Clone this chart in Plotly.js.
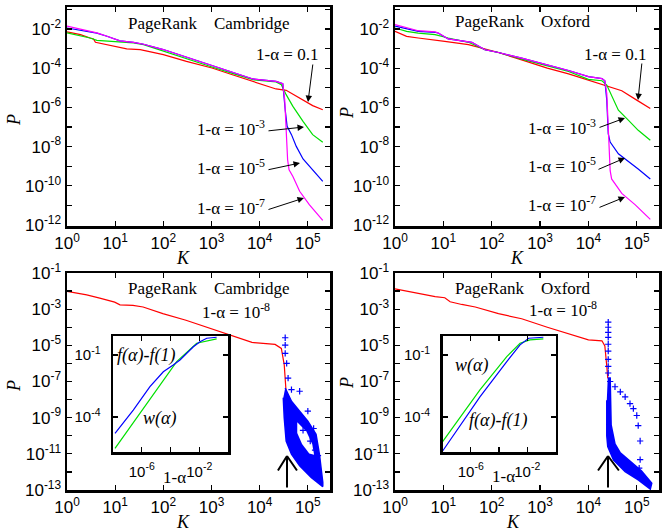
<!DOCTYPE html>
<html><head><meta charset="utf-8">
<script src="https://cdn.plot.ly/plotly-3.0.1.min.js"></script>
<style>html,body{margin:0;padding:0;background:#fff}#c{width:670px;height:531px}</style>
</head><body><div id="c"></div>
<script>
// ---------- data (log10 values) ----------
// Top-left: Cambridge
const camRedLK = [0,0.28,0.48,0.55,0.59,0.83,1.0,1.24,1.52,2.0,2.48,3.01,3.45,4.0,4.34,4.55,4.83,5.1,5.31];
const camRedLP = [-2.15,-2.29,-2.46,-2.51,-2.68,-2.80,-2.92,-3.02,-3.05,-3.31,-3.65,-3.99,-4.35,-4.79,-5.06,-5.13,-5.52,-5.91,-6.12];
const camMagLK = [0,0.28,0.48,0.62,0.83,1.0,1.10,1.38,1.59,2.0,2.48,3.01,3.45,3.86,4.34,4.48,4.52,4.55,4.58,4.61,4.69,4.83,5.03,5.31];
const camMagLP = [-1.86,-2.03,-2.12,-2.20,-2.37,-2.54,-2.61,-2.68,-2.78,-3.05,-3.43,-3.85,-4.21,-4.55,-4.67,-4.79,-5.61,-7.31,-8.67,-9.18,-9.52,-10.28,-10.96,-11.76];
const camBluLK = [0,0.28,0.48,0.62,0.83,1.0,1.10,1.38,1.59,2.0,2.48,3.01,3.45,3.86,4.34,4.48,4.53,4.57,4.66,4.76,4.9,5.1,5.31];
const camBluLP = [-1.95,-2.07,-2.14,-2.21,-2.37,-2.54,-2.61,-2.68,-2.78,-3.05,-3.43,-3.85,-4.21,-4.55,-4.67,-4.79,-6.12,-6.97,-7.39,-7.99,-8.63,-9.18,-9.77];
const camGrnLK = [0,0.28,0.48,0.62,0.83,1.0,1.38,1.59,2.0,2.48,3.01,3.45,3.86,4.34,4.45,4.55,4.69,4.9,5.1,5.31];
const camGrnLP = [-2.20,-2.34,-2.46,-2.58,-2.61,-2.63,-2.71,-2.80,-3.14,-3.53,-3.94,-4.28,-4.59,-4.70,-4.84,-5.35,-5.95,-6.71,-7.39,-7.78];
// Top-right: Oxford
const oxRedLK = [0,0.24,0.48,0.83,1.03,1.52,1.66,2.14,2.62,3.15,3.59,4.0,4.48,4.69,5.0,5.28];
const oxRedLP = [-2.12,-2.38,-2.46,-2.55,-2.63,-2.80,-2.89,-3.20,-3.58,-4.00,-4.29,-4.60,-4.98,-5.15,-5.63,-6.06];
const oxMagLK = [0,0.24,0.48,0.83,0.90,1.10,1.38,1.59,1.86,2.14,2.62,3.15,3.59,4.0,4.28,4.34,4.38,4.41,4.45,4.48,4.69,4.97,5.28];
const oxMagLP = [-1.78,-1.95,-2.09,-2.15,-2.21,-2.51,-2.60,-2.68,-3.06,-3.20,-3.49,-3.83,-4.12,-4.43,-4.53,-4.64,-5.29,-7.0,-9.23,-9.65,-10.39,-10.97,-11.71];
const oxBluLK = [0,0.24,0.48,0.83,0.90,1.10,1.38,1.59,1.86,2.14,2.62,3.15,3.59,4.0,4.28,4.34,4.38,4.41,4.45,4.62,4.83,5.03,5.28];
const oxBluLP = [-1.86,-2.0,-2.12,-2.17,-2.22,-2.51,-2.60,-2.68,-3.06,-3.20,-3.49,-3.83,-4.12,-4.43,-4.53,-4.64,-5.63,-7.34,-7.77,-8.37,-8.75,-9.14,-9.65];
const oxGrnLK = [0,0.24,0.48,0.83,1.10,1.52,1.86,2.14,2.62,3.15,3.59,4.0,4.28,4.38,4.52,4.62,4.83,5.03,5.28];
const oxGrnLP = [-1.95,-2.12,-2.21,-2.29,-2.46,-2.68,-3.06,-3.20,-3.54,-3.88,-4.17,-4.57,-4.64,-4.86,-5.63,-6.14,-6.66,-7.17,-7.68];
// Bottom-left: Cambridge, 1-alpha = 1e-8
const cam8RedLK = [0,0.41,0.68,0.99,1.10,1.37,1.58,1.99,2.47,2.99,3.42,3.84,4.32,4.45,4.51,4.53,4.55];
const cam8RedLP = [-2.02,-2.21,-2.39,-2.61,-2.76,-2.79,-2.88,-3.25,-3.61,-4.07,-4.49,-4.84,-4.95,-5.17,-6.08,-7.0,-7.64];
const cam8CloudLK = [4.53,4.66,4.83,5.0,5.17,5.24,5.31,5.31,5.07,4.83,4.66,4.55,4.51,4.49];
const cam8CloudLP = [-7.36,-8.09,-8.64,-9.19,-9.92,-11.02,-12.57,-12.81,-12.3,-11.66,-11.02,-10.29,-9.0,-7.9];
const cam8HoleLK = [4.78,4.97,5.09,5.13,5.03,4.88,4.78];
const cam8HoleLP = [-9.25,-9.76,-10.45,-11.05,-10.98,-10.45,-9.85];
const cam8PtsLK = [4.53,4.53,4.53,4.56,4.59,4.66,4.83,5.0,5.12,5.21,4.9,5.05,5.15];
const cam8PtsLP = [-4.58,-4.99,-5.44,-6.0,-6.81,-7.45,-7.54,-8.64,-9.6,-11.1,-9.7,-10.3,-10.8];
// Bottom-right: Oxford, 1-alpha = 1e-8
const ox8CloudLK = [4.40,4.45,4.47,4.55,4.66,4.83,5.10,5.31,5.28,5.03,4.76,4.52,4.40,4.38,4.38];
const ox8CloudLP = [-6.8,-6.8,-9.4,-10.45,-10.95,-11.35,-11.95,-12.63,-12.95,-12.44,-11.98,-11.35,-10.6,-10.0,-8.04];
const ox8RedLK = [0,0.34,0.83,1.03,1.14,1.38,1.66,2.14,2.62,3.15,3.59,4.0,4.28,4.34,4.38,4.40];
const ox8RedLP = [-1.88,-2.07,-2.31,-2.37,-2.59,-2.74,-2.88,-3.25,-3.53,-4.0,-4.38,-4.70,-4.75,-5.03,-6.16,-6.82];
const ox8PtsLK = [4.41,4.41,4.41,4.41,4.41,4.41,4.41,4.41,4.41,4.45,4.55,4.66,4.76,4.86,4.93,5.0,5.03,5.07,5.07,5.05];
const ox8PtsLP = [-3.72,-4.0,-4.28,-4.56,-4.94,-5.32,-5.78,-6.16,-6.53,-7.0,-7.29,-7.57,-7.85,-8.22,-8.5,-8.88,-9.44,-10.29,-11.32,-11.79];
// Insets: x = log10(1-alpha), y = log10 value
const inLWLX = [-7.86,-3.57,-2.18,-1.25,-0.79];
const inLWLY = [-5.51,-1.32,-0.43,-0.27,-0.22];
const inLFLX = [-7.86,-6.59,-5.43,-4.50,-3.81,-3.34,-2.41,-1.95,-1.48,-0.79];
const inLFLY = [-4.79,-3.66,-2.53,-1.81,-1.48,-1.24,-0.60,-0.36,-0.19,-0.14];
const inRWLX = [-7.99,-5.35,-3.45,-2.51,-1.81,-0.86];
const inRWLY = [-5.19,-2.69,-1.08,-0.43,-0.27,-0.22];
const inRFLX = [-7.99,-5.35,-3.45,-2.51,-1.9,-0.86];
const inRFLY = [-5.64,-3.02,-1.32,-0.51,-0.19,-0.14];

const xTickText = ['10<sup>0</sup>','10<sup>1</sup>','10<sup>2</sup>','10<sup>3</sup>','10<sup>4</sup>','10<sup>5</sup>'];
const xTickExp = [0,1,2,3,4,5];
const yTopExp = [-12,-11,-10,-9,-8,-7,-6,-5,-4,-3,-2,-1];
const yBotExp = [-13,-12,-11,-10,-9,-8,-7,-6,-5,-4,-3,-2,-1];
const inXExp = [-6,-4,-2];
const inXText = ['10<sup>-6</sup>','','10<sup>-2</sup>'];
const inYExp = [-1,-4];
const inYText = ['10<sup>-1</sup>','10<sup>-4</sup>'];

// ---------- helpers ----------
const P10 = a => a.map(v => Math.pow(10, v));
const RED='#ff0000', GRN='#00e000', BLU='#0000ff', MAG='#ff00ff';
const SANS='Arial, "Liberation Sans", sans-serif';
const SERIF='"Times New Roman", "Liberation Serif", serif';
const W=670, H=531;

function line(lk, lp, color, xa, ya){
  return {x:P10(lk), y:P10(lp), mode:'lines', line:{color:color, width:1.2}, xaxis:xa, yaxis:ya, hoverinfo:'skip'};
}
function cloud(lk, lp, xa, ya, col){
  return {x:P10(lk), y:P10(lp), mode:'lines', fill:'toself', fillcolor:col||BLU, line:{color:col||BLU, width:col?0:1.5}, xaxis:xa, yaxis:ya, hoverinfo:'skip'};
}
function pts(lk, lp, xa, ya){
  return {x:P10(lk), y:P10(lp), mode:'markers', marker:{symbol:'cross-thin', size:4.5, color:BLU, line:{color:BLU, width:1.2}}, xaxis:xa, yaxis:ya, hoverinfo:'skip'};
}
function supExp(e){ return '10<sup>' + (e<0?'-':'') + Math.abs(e) + '</sup>'; }

const common = {showline:true, mirror:'ticks', linewidth:2.5, linecolor:'black', ticks:'inside', ticklen:5, tickwidth:1.2, tickcolor:'black', showgrid:false, zeroline:false, type:'log', tickmode:'array'};
function xMain(d0,d1,anchor){
  return Object.assign({}, common, {domain:[d0/W, d1/W], anchor:anchor, range:[0,5.46], tickvals:P10(xTickExp), ticktext:xTickText, tickfont:{family:SANS,size:17,color:'black'}});
}
function yMain(p0,p1,anchor,exps,odd){
  return Object.assign({}, common, {domain:[1-p1/H, 1-p0/H], anchor:anchor,
    range: odd ? [-13.0,-1.0] : [-12.05,-0.88],
    tickvals:P10(exps), ticktext:exps.map(e => (Math.abs(e)%2===(odd?1:0)) ? supExp(e) : ''),
    tickfont:{family:SANS,size:17,color:'black'}});
}
function xIn(d0,d1,anchor){
  return Object.assign({}, common, {domain:[d0/W,d1/W], anchor:anchor, range:[-8,0], tickvals:P10(inXExp), ticktext:inXText, tickfont:{family:SANS,size:15,color:'black'}, ticklabelstandoff:4});
}
function yIn(p0,p1,anchor){
  return Object.assign({}, common, {domain:[1-p1/H,1-p0/H], anchor:anchor, range:[-5.69,-0.08], tickvals:P10(inYExp), ticktext:inYText, tickfont:{family:SANS,size:15,color:'black'}, ticklabelstandoff:7});
}

const data = [
  line(camRedLK, camRedLP, RED, 'x','y'),
  line(camGrnLK, camGrnLP, GRN, 'x','y'),
  line(camBluLK, camBluLP, BLU, 'x','y'),
  line(camMagLK, camMagLP, MAG, 'x','y'),
  line(oxRedLK, oxRedLP, RED, 'x2','y2'),
  line(oxGrnLK, oxGrnLP, GRN, 'x2','y2'),
  line(oxBluLK, oxBluLP, BLU, 'x2','y2'),
  line(oxMagLK, oxMagLP, MAG, 'x2','y2'),
  line(cam8RedLK, cam8RedLP, RED, 'x3','y3'),
  cloud(cam8CloudLK, cam8CloudLP, 'x3','y3'),
  cloud(cam8HoleLK, cam8HoleLP, 'x3','y3','#ffffff'),
  pts(cam8PtsLK, cam8PtsLP, 'x3','y3'),
  line(ox8RedLK, ox8RedLP, RED, 'x4','y4'),
  cloud(ox8CloudLK, ox8CloudLP, 'x4','y4'),
  pts(ox8PtsLK, ox8PtsLP, 'x4','y4'),
  line(inLWLX, inLWLY, GRN, 'x5','y5'),
  line(inLFLX, inLFLY, BLU, 'x5','y5'),
  line(inRWLX, inRWLY, GRN, 'x6','y6'),
  line(inRFLX, inRFLY, BLU, 'x6','y6')
];

function txt(px, py, text, opt){
  return Object.assign({xref:'paper', yref:'paper', x:px/W, y:1-py/H, text:text, showarrow:false, xanchor:'center', yanchor:'middle', font:{family:SERIF, size:17, color:'black'}}, opt||{});
}
function arr(tipX, tipY, tailX, tailY, head, w){
  return {xref:'paper', yref:'paper', x:tipX/W, y:1-tipY/H, ax:tailX-tipX, ay:tailY-tipY, text:'', showarrow:true,
    arrowhead:head, arrowsize:1.3, arrowwidth:w||1, arrowcolor:'black', standoff:0, startstandoff:0};
}
const nb = '&nbsp;&nbsp;&nbsp;&nbsp;';
const IT = {font:{family:SERIF, size:18, color:'black', style:'italic'}};
const annotations = [
  txt(208,23,'PageRank'+nb+'Cambridge'),
  txt(523,22,'PageRank'+nb+'Oxford'),
  txt(208,288,'PageRank'+nb+'Cambridge'),
  txt(523,288,'PageRank'+nb+'Oxford'),
  txt(320,55,'1-α = 0.1',{xanchor:'right'}),
  txt(267,128,'1-α = 10<sup>-3</sup>',{xanchor:'right'}),
  txt(267,167,'1-α = 10<sup>-5</sup>',{xanchor:'right'}),
  txt(267,207,'1-α = 10<sup>-7</sup>',{xanchor:'right'}),
  txt(648,55,'1-α = 0.1',{xanchor:'right'}),
  txt(598,127,'1-α = 10<sup>-3</sup>',{xanchor:'right'}),
  txt(598,165,'1-α = 10<sup>-5</sup>',{xanchor:'right'}),
  txt(598,204,'1-α = 10<sup>-7</sup>',{xanchor:'right'}),
  txt(236,311,'1-α = 10<sup>-8</sup>'),
  txt(563,309,'1-α = 10<sup>-8</sup>'),
  arr(308,102,313,63,2),
  arr(304,127,267,131,2),
  arr(300,163,267,170,2),
  arr(304,198,267,210,2),
  arr(638,100,642,62,2),
  arr(625,118,598,128,2),
  arr(625,158,597,170,2),
  arr(625,197,598,208,2),
  // big arrows
  arr(287,456,287,489,0,2), arr(287,456,277,472,0,2), arr(287,456,298,472,0,2),
  arr(608,456,608,489,0,2), arr(608,456,597,472,0,2), arr(608,456,620,472,0,2),
  // axis titles
  txt(183,258,'K',IT), txt(517,258,'K',IT), txt(183,522,'K',IT), txt(513,522,'K',IT),
  txt(14,120,'P',Object.assign({textangle:-90},IT)), txt(347,113,'P',Object.assign({textangle:-90},IT)),
  txt(14,386,'P',Object.assign({textangle:-90},IT)), txt(347,383,'P',Object.assign({textangle:-90},IT)),
  // inset labels
  txt(146,355,'f(α)-f(1)',IT), txt(159,418,'w(α)',IT),
  txt(472,365,'w(α)',IT), txt(498,420,'f(α)-f(1)',IT),
  txt(175,477,'1-α'), txt(503,476,'1-α')
];

const layout = {
  width:W, height:H, margin:{l:0,r:0,t:0,b:0}, paper_bgcolor:'white', plot_bgcolor:'white', showlegend:false,
  xaxis: xMain(67,330,'y'),  yaxis: yMain(7,226,'x',yTopExp,false),
  xaxis2: xMain(395,659,'y2'), yaxis2: yMain(7,226,'x2',yTopExp,false),
  xaxis3: xMain(67,330,'y3'), yaxis3: yMain(273,490,'x3',yBotExp,true),
  xaxis4: xMain(395,659,'y4'), yaxis4: yMain(273,490,'x4',yBotExp,true),
  xaxis5: xIn(113,228,'y5'), yaxis5: yIn(336,452,'x5'),
  xaxis6: xIn(442.5,555.5,'y6'), yaxis6: yIn(336,452,'x6'),
  annotations: annotations
};
Plotly.newPlot('c', data, layout, {staticPlot:true, displayModeBar:false});
</script>
</body></html>
